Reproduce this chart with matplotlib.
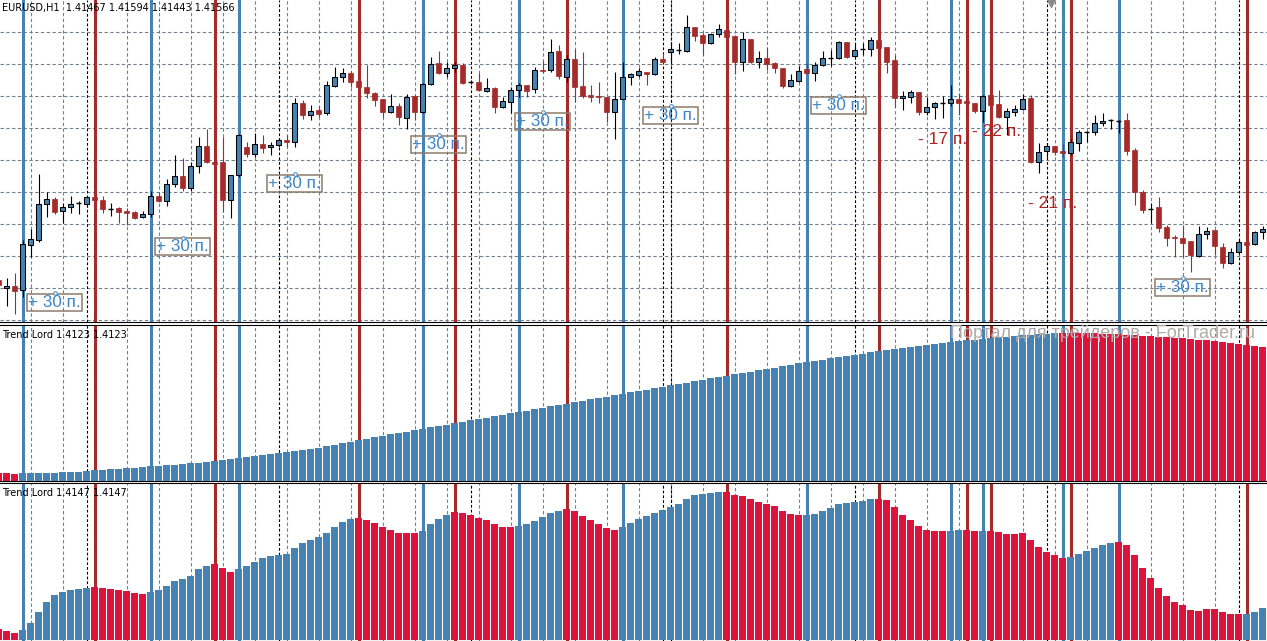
import matplotlib
matplotlib.use('Agg')
import matplotlib.pyplot as plt

# EURUSD H1 candles (bar 0 is partly off the left edge)
opens = [1.4125, 1.412, 1.41213, 1.41188, 1.41469, 1.415, 1.41725, 1.41756, 1.41681, 1.41706,
         1.41731, 1.41725, 1.41769, 1.4175, 1.41694, 1.417, 1.41681, 1.41675, 1.41644, 1.41663,
         1.41775, 1.41744, 1.4185, 1.419, 1.41825, 1.41963, 1.42088, 1.41988, 1.41988, 1.4175,
         1.41906, 1.42081, 1.42038, 1.421, 1.42081, 1.42094, 1.42125, 1.42113, 1.42356, 1.42281,
         1.42313, 1.42294, 1.42463, 1.42519, 1.42544, 1.42494, 1.42456, 1.42419, 1.42381, 1.423,
         1.42338, 1.42263, 1.424, 1.423, 1.42475, 1.42606, 1.42544, 1.42575, 1.42594, 1.42488,
         1.42488, 1.42431, 1.4245, 1.42331, 1.42363, 1.42438, 1.42469, 1.42444, 1.42563, 1.42563,
         1.42681, 1.42519, 1.42631, 1.42463, 1.42406, 1.424, 1.42394, 1.423, 1.42381, 1.42519,
         1.42531, 1.4255, 1.42538, 1.42631, 1.42675, 1.42688, 1.42681, 1.42831, 1.42781, 1.42731,
         1.42788, 1.42813, 1.42775, 1.42613, 1.42756, 1.42613, 1.42638, 1.42606, 1.42575, 1.42463,
         1.42494, 1.42569, 1.42544, 1.42594, 1.42638, 1.42638, 1.42738, 1.4265, 1.42694, 1.42694,
         1.4275, 1.42706, 1.42625, 1.42388, 1.42394, 1.42425, 1.423, 1.42331, 1.42356, 1.42356,
         1.42381, 1.42369, 1.42356, 1.42306, 1.42406, 1.4235, 1.42269, 1.423, 1.42319, 1.42388,
         1.41988, 1.42056, 1.42088, 1.42056, 1.42044, 1.42106, 1.42175, 1.42175, 1.42231, 1.4225,
         1.42244, 1.4225, 1.42063, 1.418, 1.41694, 1.41706, 1.41581, 1.41519, 1.41513, 1.41494,
         1.414, 1.41538, 1.41563, 1.41456, 1.41356, 1.41425, 1.41488, 1.41475, 1.4155]
highs = [1.41269, 1.41263, 1.41294, 1.415, 1.41569, 1.41913, 1.418, 1.41769, 1.41731, 1.41775,
         1.41744, 1.41775, 1.41775, 1.41775, 1.41731, 1.41706, 1.417, 1.41681, 1.41681, 1.41806,
         1.418, 1.41881, 1.42031, 1.42013, 1.41988, 1.42144, 1.42194, 1.42031, 1.42144, 1.41906,
         1.42163, 1.42113, 1.42169, 1.42156, 1.42113, 1.42138, 1.42156, 1.42388, 1.42375, 1.42344,
         1.42338, 1.42494, 1.42581, 1.42575, 1.42556, 1.42506, 1.42594, 1.42425, 1.42381, 1.42413,
         1.42356, 1.42413, 1.42406, 1.42481, 1.42644, 1.42681, 1.42613, 1.42613, 1.42606, 1.425,
         1.42544, 1.42513, 1.42456, 1.42394, 1.42456, 1.42481, 1.42469, 1.42581, 1.42619, 1.42756,
         1.42719, 1.42656, 1.42694, 1.42675, 1.42469, 1.42488, 1.42394, 1.4255, 1.42613, 1.42544,
         1.42575, 1.4255, 1.42644, 1.42669, 1.42738, 1.42731, 1.42906, 1.42831, 1.42794, 1.42794,
         1.4285, 1.42825, 1.42781, 1.428, 1.42756, 1.42681, 1.42706, 1.42613, 1.42575, 1.42538,
         1.42588, 1.42606, 1.42613, 1.42681, 1.42688, 1.42744, 1.42738, 1.42731, 1.42731, 1.42769,
         1.42781, 1.42706, 1.42656, 1.42431, 1.42438, 1.42425, 1.42394, 1.42363, 1.424, 1.42469,
         1.42419, 1.42394, 1.42356, 1.42406, 1.42406, 1.42438, 1.42325, 1.42344, 1.42413, 1.42406,
         1.42106, 1.42106, 1.42088, 1.421, 1.42131, 1.42188, 1.42181, 1.42281, 1.42294, 1.42256,
         1.4225, 1.42294, 1.42075, 1.41813, 1.41731, 1.41769, 1.41594, 1.41531, 1.41594, 1.41494,
         1.41588, 1.41581, 1.41563, 1.41481, 1.4145, 1.41506, 1.415, 1.41556, 1.41588]
lows = [1.41188, 1.41088, 1.41038, 1.41144, 1.41394, 1.41488, 1.41644, 1.41663, 1.41606, 1.41669,
        1.41663, 1.41719, 1.41738, 1.41669, 1.4165, 1.41606, 1.41594, 1.41631, 1.41638, 1.41644,
        1.41738, 1.41713, 1.41831, 1.41806, 1.41806, 1.41919, 1.41981, 1.41956, 1.41675, 1.41638,
        1.41894, 1.42019, 1.42019, 1.42044, 1.42031, 1.42081, 1.42081, 1.42081, 1.42256, 1.4225,
        1.42269, 1.42281, 1.42456, 1.42488, 1.42456, 1.42431, 1.42388, 1.42338, 1.42269, 1.42294,
        1.42219, 1.42194, 1.4225, 1.42294, 1.42469, 1.42538, 1.42519, 1.4255, 1.42475, 1.42475,
        1.42431, 1.42425, 1.42294, 1.42325, 1.42294, 1.42394, 1.42394, 1.42419, 1.42544, 1.4255,
        1.42506, 1.42488, 1.42363, 1.42388, 1.42363, 1.42356, 1.42238, 1.42131, 1.42381, 1.42469,
        1.42519, 1.42469, 1.42531, 1.42606, 1.42613, 1.42663, 1.42675, 1.42744, 1.42656, 1.42725,
        1.42769, 1.42763, 1.42538, 1.42556, 1.42606, 1.42575, 1.42563, 1.42544, 1.4245, 1.42456,
        1.42488, 1.42538, 1.42494, 1.42588, 1.42588, 1.42631, 1.42638, 1.42644, 1.42656, 1.4265,
        1.42694, 1.42544, 1.42331, 1.42313, 1.42356, 1.42281, 1.42281, 1.42256, 1.42263, 1.42338,
        1.42281, 1.42338, 1.42294, 1.42238, 1.42331, 1.42263, 1.42156, 1.42275, 1.42313, 1.41981,
        1.41919, 1.42019, 1.42031, 1.42019, 1.42031, 1.42056, 1.42113, 1.42156, 1.42213, 1.42194,
        1.42169, 1.42031, 1.41719, 1.41669, 1.41606, 1.4155, 1.41463, 1.41394, 1.41394, 1.413,
        1.41394, 1.41506, 1.41406, 1.41325, 1.4135, 1.41419, 1.41456, 1.41469, 1.41506]
closes = [1.41219, 1.41213, 1.41181, 1.41475, 1.41506, 1.41725, 1.41756, 1.41675, 1.41706, 1.41725,
          1.41731, 1.41769, 1.4175, 1.41694, 1.41694, 1.41675, 1.41669, 1.41638, 1.41663, 1.41775,
          1.41744, 1.4185, 1.419, 1.41825, 1.41963, 1.42088, 1.41988, 1.41975, 1.4175, 1.41906,
          1.42156, 1.42038, 1.421, 1.42075, 1.42094, 1.42125, 1.42113, 1.42356, 1.42281, 1.42306,
          1.42288, 1.42469, 1.42519, 1.42544, 1.42488, 1.42456, 1.42419, 1.42375, 1.423, 1.42338,
          1.42269, 1.42394, 1.423, 1.42475, 1.426, 1.42544, 1.42575, 1.42594, 1.42481, 1.42488,
          1.42438, 1.4245, 1.42331, 1.42369, 1.42438, 1.42469, 1.42431, 1.42563, 1.42556, 1.42675,
          1.42525, 1.42631, 1.42456, 1.424, 1.42394, 1.42394, 1.423, 1.42381, 1.42519, 1.42538,
          1.42556, 1.42538, 1.42631, 1.42613, 1.42694, 1.42688, 1.42831, 1.42775, 1.42731, 1.42788,
          1.42819, 1.42769, 1.42613, 1.42756, 1.42613, 1.42638, 1.426, 1.42575, 1.42463, 1.425,
          1.42556, 1.42544, 1.42594, 1.42638, 1.42638, 1.42738, 1.42644, 1.42688, 1.42694, 1.4275,
          1.427, 1.42613, 1.42388, 1.424, 1.42425, 1.423, 1.42331, 1.42356, 1.42356, 1.42381,
          1.42356, 1.42356, 1.42306, 1.424, 1.42344, 1.42269, 1.42306, 1.42319, 1.42381, 1.41988,
          1.4205, 1.42088, 1.4205, 1.42044, 1.42113, 1.42175, 1.42175, 1.42231, 1.42244, 1.4225,
          1.42244, 1.42056, 1.418, 1.41688, 1.41694, 1.41575, 1.41513, 1.41513, 1.41481, 1.41406,
          1.41538, 1.41556, 1.41463, 1.41356, 1.41425, 1.41488, 1.41469, 1.4155, 1.41569]

# Trend Lord histograms (values as bar heights)
slow_vals = [8, 8, 7, 8, 8, 8, 8, 8, 9, 9, 9, 10, 11, 11, 12, 12, 13, 13, 14, 15,
             15, 16, 16, 17, 18, 18, 19, 20, 21, 22, 23, 24, 25, 26, 27, 28, 29, 30, 31, 32,
             33, 35, 36, 38, 39, 41, 42, 44, 45, 47, 48, 49, 51, 52, 54, 55, 56, 58, 59, 61,
             62, 63, 65, 66, 68, 69, 70, 72, 73, 75, 76, 77, 79, 80, 82, 83, 84, 86, 87, 89,
             90, 91, 93, 94, 96, 97, 98, 100, 101, 103, 104, 105, 107, 108, 109, 111, 112, 113, 115, 116,
             118, 119, 120, 121, 123, 124, 125, 126, 127, 129, 130, 131, 132, 133, 134, 135, 136, 137, 138, 139,
             140, 141, 141, 142, 143, 144, 144, 145, 146, 146, 147, 147, 148, 148, 148, 148, 148, 148, 147, 147,
             147, 146, 146, 145, 145, 144, 144, 143, 143, 142, 141, 141, 140, 139, 138, 137, 136, 135, 134]
slow_cols = ("RRRBBBBBBBBBBBBBBBBBBBBBBBBBBBBBBBBBBBBBBBBBBBBBBBBBBBBBBBBBBBBBBBBBBBBBBBBB"
             "BBBBBBBBBBBBBBBBBBBBBBBBBBBBBBBBBBBBBBBBBBBBBBBBBBBBBBBBBRRRRRRRRRRRRRRRRRRRRRRRRRR")
fast_vals = [11, 9, 7, 10, 17, 28, 38, 45, 48, 50, 51, 52, 53, 52, 51, 50, 49, 47, 46, 48,
             50, 54, 59, 61, 64, 71, 74, 76, 72, 68, 71, 74, 78, 82, 84, 85, 86, 92, 97, 100,
             103, 107, 113, 118, 121, 122, 120, 117, 113, 110, 107, 107, 107, 109, 116, 121, 125, 128, 127, 125,
             122, 120, 116, 113, 113, 114, 116, 119, 123, 127, 129, 131, 129, 124, 120, 116, 112, 110, 113, 117,
             121, 124, 127, 130, 133, 136, 141, 145, 146, 147, 148, 148, 145, 144, 141, 138, 136, 134, 129, 126,
             125, 125, 126, 129, 132, 136, 137, 138, 139, 141, 141, 140, 133, 125, 120, 114, 110, 109, 109, 109,
             110, 110, 109, 109, 109, 108, 106, 106, 107, 100, 93, 88, 85, 82, 83, 86, 89, 92, 95, 97,
             98, 95, 85, 72, 62, 52, 44, 38, 35, 30, 29, 31, 31, 28, 26, 26, 26, 28, 32]
fast_cols = ("RRRBBBBBBBBBRRRRRRRBBBBBBBBRRRBBBBBBBBBBBBBBBRRRRRRRRBBBBRRRRRRRRBBBBBBRRRRRRRBBBBBBBBBBBBB"
             "RRRRRRRRRRBBBBBBBBBRRRRRRRRRBBRRBRRRRRRRRRRBBBBBBRRRRRRRRRRRRRRRRBBB")

blue_lines = [3, 19, 30, 53, 65, 78, 101, 119, 123, 133, 140]
red_lines = [12, 27, 45, 57, 71, 91, 110, 121, 124, 134, 156]
day_seps = [11, 35, 59, 83, 84, 107, 131, 155]

win_bars = [7, 23, 37, 55, 68, 84, 105, 148]
win_prices = [1.41169, 1.41514, 1.41913, 1.42156, 1.423, 1.42338, 1.424, 1.41263]
win_text = "+ 30 п."
loss_bars = [118, 124.8, 131.8]
loss_prices = [1.42125, 1.42181, 1.41731]
loss_texts = ["- 17 п.", "- 22 п.", "- 21 п."]

BLUE = '#4682B4'
BROWN = '#A52A2A'
CRIMSON = '#DC143C'
GRID = '#708090'

W, H = 1267, 641
fig = plt.figure(figsize=(W / 100, H / 100), dpi=100)
fig.patch.set_facecolor('white')

ax1 = fig.add_axes([0, (H - 322) / H, 1, 322 / H])
ax2 = fig.add_axes([0, (H - 480.7) / H, 1, 156.2 / H])
ax3 = fig.add_axes([0, 0.5 / H, 1, 158.0 / H])

xl = (1.5 / 8, (W + 1.5) / 8)
for ax in (ax1, ax2, ax3):
    ax.set_xlim(*xl)
    ax.set_xticks([])
    ax.set_yticks([])
    for s in ('left', 'right'):
        ax.spines[s].set_visible(False)
    for s in ('top', 'bottom'):
        ax.spines[s].set_linewidth(0.8)
        ax.spines[s].set_color('black')
    # vertical grid every 4 bars
    for g in range(4, 160, 4):
        ax.axvline(g, color=GRID, lw=0.8, ls=(0, (3, 2.2)), zorder=0)
    for b in day_seps:
        ax.axvline(b, color='black', lw=0.8, ls=(0, (2.5, 1.8)), zorder=0.5)
    for b in blue_lines:
        ax.axvline(b, color=BLUE, lw=2.2, zorder=1)
    for b in red_lines:
        ax.axvline(b, color=BROWN, lw=2.2, zorder=1)
ax1.spines['top'].set_visible(False)

# price pane
ax1.set_ylim(1.43 - 322 / 16000, 1.43)
for k in range(10):
    ax1.axhline(1.41 + 0.002 * k, color=GRID, lw=0.8, ls=(0, (3, 2.2)), zorder=0)

n = len(opens)
for i in range(n):
    o, h, l, c = opens[i], highs[i], lows[i], closes[i]
    if c > o:
        ax1.vlines(i, l, h, color='black', lw=0.8, zorder=2)
        ax1.bar(i, c - o, bottom=o, width=0.55, color=BLUE, edgecolor='black', lw=0.75, zorder=3)
    elif c < o:
        ax1.vlines(i, l, h, color=BROWN, lw=0.8, zorder=2)
        ax1.bar(i, c - o, bottom=o, width=0.62, color=BROWN, edgecolor=BROWN, lw=0.5, zorder=3)
    else:
        ax1.vlines(i, l, h, color='black', lw=0.8, zorder=2)
        ax1.hlines(o, i - 0.35, i + 0.35, color='black', lw=1.0, zorder=3)

for b, p in zip(win_bars, win_prices):
    ax1.annotate(win_text, xy=(b, p), xytext=(0, -1.2), textcoords='offset points',
                 ha='center', va='top', fontsize=12.3, family='Liberation Sans', color='#3d85c6',
                 bbox=dict(boxstyle='square,pad=0.06', fc='none', ec='#8b7b6b', lw=1.1), zorder=6)
    ax1.plot(b, p, marker='o', ms=2.6, mfc='white', mec='#3d85c6', mew=0.7, zorder=7)
for b, p, t in zip(loss_bars, loss_prices, loss_texts):
    ax1.text(b, p, t, ha='center', va='center', fontsize=12.5, family='Liberation Sans',
             color='#b22222', zorder=6)

ax1.plot(131.56, 1.43 - 2 / 16000, marker='v', ms=7, color='#8a8a8a', clip_on=False, zorder=8)

fig.text(2 / W, 1 - 7.5 / H, "EURUSD,H1  1.41467 1.41594 1.41443 1.41566", fontsize=7,
         family='DejaVu Sans', va='center', ha='left', color='black')

# Trend Lord slow
ax2.set_ylim(0, 156.2)
ax2.bar(range(n), slow_vals, width=0.86,
        color=[CRIMSON if ch == 'R' else BLUE for ch in slow_cols], zorder=3)
ax2.text(2 / W, 1 - 10 / 156.2, "Trend Lord 1.4123 1.4123", transform=ax2.transAxes,
         fontsize=7, family='DejaVu Sans', va='center', ha='left', color='black', zorder=6)
ax2.text(1255 / W, (480.7 - 338) / 156.2, "Портал для трейдеров - ForTrader.ru",
         transform=ax2.transAxes, fontsize=13, family='Liberation Sans', color='#b0aaaa',
         ha='right', va='baseline', clip_on=True, zorder=7)

# Trend Lord fast
ax3.set_ylim(-1, 157.0)
ax3.bar(range(n), fast_vals, width=0.86,
        color=[CRIMSON if ch == 'R' else BLUE for ch in fast_cols], zorder=3)
ax3.text(2 / W, 1 - 10 / 158.0, "Trend Lord 1.4147 1.4147", transform=ax3.transAxes,
         fontsize=7, family='DejaVu Sans', va='center', ha='left', color='black', zorder=6)

fig.savefig('out.png', dpi=100)
